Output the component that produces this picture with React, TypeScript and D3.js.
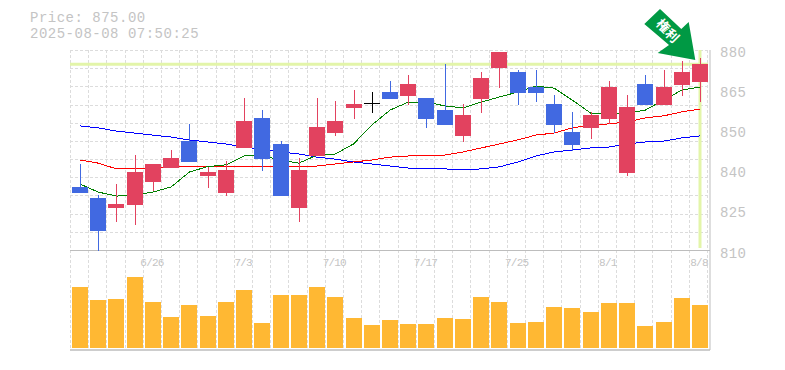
import React from "react";
import * as d3 from "d3";

const priceTicks = [880, 866, 852, 838, 824, 810];
const priceLabels = ["880", "865", "850", "840", "825", "810"];
const dateLabels = ["6/26", "7/3", "7/10", "7/17", "7/25", "8/1", "8/8"];
const dateIdx = [4, 9, 14, 19, 24, 29, 34];

// Values, in yen
const highs = [840.2,829.4,833.2,843.3,840.2,845.1,854.2,839.2,841.2,863.2,859,848.2,842.3,863.2,862.2,866,865.3,869.2,871.3,863.2,875.1,861.2,872.3,879.3,873,873,864.3,858.4,858.4,869.2,864.3,871.3,873,876.2,877.2];
const opens = [832.2,828.3,824.8,825.9,833.9,838.8,848.2,836,830.1,845.8,856.3,847.2,824.8,843,851,859.8,861.2,865.3,863.9,863.2,859,850,862.9,873.7,872.3,867.1,861.2,851.4,852.8,855.9,837.1,868.1,860.8,867.8,868.8];
const closes = [830.1,816.8,826.2,837.4,840.2,842.3,840.9,837.4,838.1,855.2,841.9,829,838.1,853.1,855.2,861.2,861.2,862.9,868.1,855.9,853.8,857.3,870.2,879.3,865,865,853.8,846.8,857.3,867.1,860.1,860.8,867.1,872.3,875];
const lows = [830.1,809.8,820,818.9,830.8,838.8,840.9,831.8,829,845.8,837.8,829,820,843,850,855.9,858,862.9,860.8,852.8,853.8,847.9,858,866.7,860.8,861.8,851,844.7,848.9,854.2,836,860.8,860.8,863.9,861.8];
const maShort = [833.2,830.4,829,829.4,830.4,832.2,837.4,839.3,839.9,843,843,841.6,840.5,843.3,843.7,847.2,853.8,859,861.8,861.8,860.5,859.8,861.8,863.6,865.3,867.4,866.7,862.5,858,858,858,859,862.5,866,867.1];
const maMid = [841.6,840.5,838.5,838.5,838.5,839.2,839.5,839.2,839.2,839.5,839.5,839.5,839.2,839.5,840.2,840.9,841.6,842.6,843,843,843.3,844.4,845.8,847.2,848.6,850.3,851,852.8,853.8,854.2,854.9,856.3,857,858.4,859.4];
const maLong = [853.5,852.8,851.7,851,850.3,849.6,848.6,847.9,847.2,846.1,845.4,844.4,843.7,842.6,841.9,840.9,840.2,839.5,838.8,838.5,838.5,838.1,838.5,839.2,840.9,843,844.4,845.1,845.8,846.1,847.2,847.9,848.2,849.3,850];
const volumes = [610,480,490,710,460,310,430,320,460,580,250,530,530,610,510,300,230,280,240,240,300,290,510,460,250,260,410,400,360,450,450,220,260,500,430];

const plotLeft = 70;
const plotRight = 710;
const plotTop = 50;
const priceBottom = 250.5;
const volBottom = 350;
const firstX = 80;
const lastX = 700;

const x = d3.scaleLinear().domain([0, 34]).range([firstX, lastX]);
const y = d3.scaleLinear().domain([810, 880]).range([priceBottom, plotTop]);
const v = d3.scaleLinear().domain([0, 1000]).range([348, 248]);

const hGrid = d3.range(0, 12).map((k) => Math.round(plotTop + (k * 200) / 11) + 0.5);
const vGrid = d3.range(0, 36).map((k) => Math.round(plotLeft + k * 18.2) + 0.5);

const gray = "#c4c4c4";
const up = "#e2425f";
const down = "#4169e1";
const mono = "'Liberation Mono', monospace";

function maPath(values: number[]) {
  return d3.line<number>().x((_, i) => x(i)).y((d) => y(d))(values) ?? "";
}

export default function App() {
  const n = opens.length;
  return (
    <svg width={785} height={370} style={{ position: "absolute", left: 0, top: 0, background: "#fff" }}>
      <text x={30} y={22} fontFamily={mono} fontSize={14} letterSpacing={0.5} fill={gray}>Price: 875.00</text>
      <text x={30} y={38} fontFamily={mono} fontSize={14} letterSpacing={0.5} fill={gray}>2025-08-08 07:50:25</text>

      {hGrid.map((g) => (
        <line key={g} x1={plotLeft} x2={plotRight} y1={g} y2={g} stroke="#dcdcdc" strokeWidth={1} strokeDasharray="3 2" shapeRendering="crispEdges" />
      ))}
      {vGrid.map((g) => (
        <line key={g} x1={g} x2={g} y1={plotTop} y2={volBottom} stroke="#dcdcdc" strokeWidth={1} strokeDasharray="3 2" shapeRendering="crispEdges" />
      ))}

      <line x1={plotLeft} x2={708} y1={y(875)} y2={y(875)} stroke="#e3f5a9" strokeWidth={3} />
      <line x1={x(34)} x2={x(34)} y1={plotTop} y2={248} stroke="#e3f5a9" strokeWidth={3} />

      <line x1={plotLeft} x2={plotRight} y1={250.5} y2={250.5} stroke="#bdbdbd" strokeWidth={1} />
      <line x1={plotLeft} x2={plotRight} y1={350} y2={350} stroke="#bdbdbd" strokeWidth={1.5} />
      <line x1={plotRight} x2={plotRight} y1={plotTop} y2={350} stroke="#bdbdbd" strokeWidth={1} />

      <path d={maPath(maLong)} fill="none" stroke="#0000ff" strokeWidth={1} shapeRendering="crispEdges" />
      <path d={maPath(maMid)} fill="none" stroke="#ff0000" strokeWidth={1} shapeRendering="crispEdges" />
      <path d={maPath(maShort)} fill="none" stroke="#008000" strokeWidth={1} shapeRendering="crispEdges" />

      {d3.range(n).map((i) => {
        const isUp = closes[i] >= opens[i];
        const doji = i === 16;
        const color = doji ? "#000000" : isUp ? up : down;
        const cx = Math.round(x(i));
        const top = y(Math.max(opens[i], closes[i]));
        const bot = y(Math.min(opens[i], closes[i]));
        return (
          <g key={i} shapeRendering="crispEdges">
            <line x1={cx + 0.5} x2={cx + 0.5} y1={y(highs[i])} y2={y(lows[i])} stroke={color} strokeWidth={1} />
            {doji ? (
              <line x1={cx - 8} x2={cx + 8} y1={top} y2={top} stroke={color} strokeWidth={1} />
            ) : (
              <rect x={cx - 8} y={top} width={16} height={bot - top} fill={color} />
            )}
          </g>
        );
      })}

      {volumes.map((d, i) => (
        <rect key={i} x={Math.round(x(i)) - 8} y={v(d)} width={16} height={348 - v(d)} fill="#ffb833" shapeRendering="crispEdges" />
      ))}

      {priceTicks.map((t, i) => (
        <text key={t} x={720} y={y(t) + 7} fontFamily={mono} fontSize={14} letterSpacing={0.4} fill={gray}>{priceLabels[i]}</text>
      ))}
      {dateLabels.map((d, i) => (
        <text key={d} x={x(dateIdx[i]) - 1} y={266} textAnchor="middle" fontFamily={mono} fontSize={11} letterSpacing={-0.8} fill={gray}>{d}</text>
      ))}

      <polygon points="660,9 644.3,24 669,45 657.7,53 695.3,60 688.7,22 681.3,29" fill="#009944" />
      <text x={663} y={30.5} transform="rotate(45 663 26)" textAnchor="middle" fontFamily="'Noto Sans CJK JP'" fontSize={13} fontWeight={700} fill="#fff">権</text>
      <text x={672} y={40.5} transform="rotate(45 672 36)" textAnchor="middle" fontFamily="'Noto Sans CJK JP'" fontSize={13} fontWeight={700} fill="#fff">利</text>
    </svg>
  );
}
